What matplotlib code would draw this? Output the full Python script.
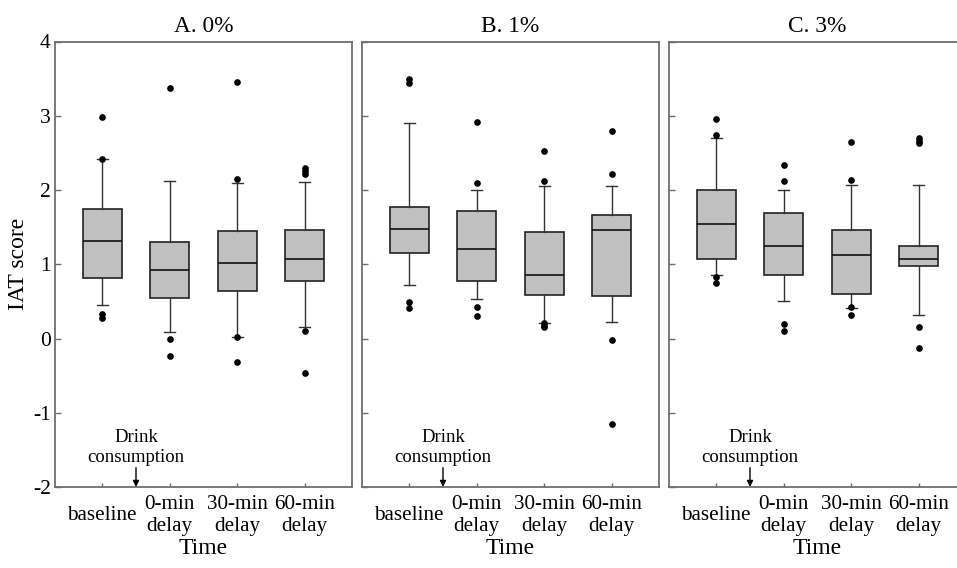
import matplotlib
matplotlib.use("Agg")
import matplotlib.pyplot as plt

# ---- data ----
panels = ["A. 0%", "B. 1%", "C. 3%"]
times = ["baseline", "0-min\ndelay", "30-min\ndelay", "60-min\ndelay"]

q1 = [[0.81, 0.54, 0.634, 0.77],
      [1.145, 0.78, 0.59, 0.566],
      [1.074, 0.858, 0.593, 0.97]]
med = [[1.31, 0.926, 1.02, 1.07],
       [1.47, 1.20, 0.85, 1.46],
       [1.545, 1.24, 1.13, 1.065]]
q3 = [[1.744, 1.294, 1.45, 1.465],
      [1.765, 1.715, 1.43, 1.67],
      [1.996, 1.685, 1.455, 1.24]]
whislo = [[0.445, 0.094, 0.02, 0.16],
          [0.723, 0.53, 0.207, 0.216],
          [0.858, 0.503, 0.413, 0.32]]
whishi = [[2.42, 2.117, 2.10, 2.11],
          [2.90, 2.0, 2.06, 2.06],
          [2.70, 2.0, 2.07, 2.07]]
fliers = [
    [[2.98, 2.42, 0.33, 0.28],
     [3.37, 0.0, -0.24],
     [3.45, 2.15, 0.02, -0.32],
     [2.30, 2.26, 2.22, 0.10, -0.47]],
    [[3.49, 3.44, 0.485, 0.41],
     [2.91, 2.10, 0.43, 0.305],
     [2.53, 2.12, 0.21, 0.175, 0.15],
     [2.79, 2.21, -0.02, -1.155]],
    [[2.955, 2.735, 0.826, 0.75],
     [2.33, 2.12, 0.20, 0.10],
     [2.65, 2.14, 0.42, 0.32],
     [2.70, 2.66, 2.63, 0.157, -0.126]],
]
yticks = [-2, -1, 0, 1, 2, 3, 4]

# ---- figure ----
W, H = 957, 568
plt.rcParams["font.family"] = ["Liberation Serif", "DejaVu Serif"]
plt.rcParams["axes.unicode_minus"] = False
fig = plt.figure(figsize=(W / 100, H / 100), dpi=100)

lefts = [55, 362, 669]
ax_w = 297
top, bottom = 41.5, 487
spine_col = "#6e6e6e"

for p in range(3):
    ax = fig.add_axes([lefts[p] / W, (H - bottom) / H, ax_w / W, (bottom - top) / H])
    stats = []
    for i in range(4):
        stats.append(dict(q1=q1[p][i], med=med[p][i], q3=q3[p][i],
                          whislo=whislo[p][i], whishi=whishi[p][i],
                          fliers=fliers[p][i], label=times[i]))
    ax.bxp(stats, positions=[1, 2, 3, 4], widths=0.58, capwidths=0.17,
           patch_artist=True, showfliers=True,
           boxprops=dict(facecolor="#c0c0c0", edgecolor="#222222", linewidth=1.2),
           medianprops=dict(color="#111111", linewidth=1.2),
           whiskerprops=dict(color="#333333", linewidth=1.0),
           capprops=dict(color="#333333", linewidth=1.0),
           flierprops=dict(marker="o", markerfacecolor="black", markeredgecolor="black",
                           markersize=3.8, linestyle="none"))
    ax.set_xlim(0.3, 4.7)
    ax.set_ylim(-2, 4)
    ax.set_yticks(yticks)
    ax.set_xticks([1, 2, 3, 4])
    ax.set_xticklabels(times, fontsize=15.2, linespacing=1.25)
    for lab in ax.get_xticklabels():
        lab.set_verticalalignment("center")
    ax.tick_params(axis="x", direction="in", length=3, width=1, color=spine_col, pad=20.5)
    ax.tick_params(axis="y", direction="in", length=4, width=1, color=spine_col, pad=3,
                   labelsize=15.5)
    if p > 0:
        ax.tick_params(axis="y", labelleft=False)
    for s in ax.spines.values():
        s.set_color(spine_col)
        s.set_linewidth(1.3)
    ax.set_title(panels[p], fontsize=16.8, pad=7)
    ax.set_xlabel("Time", fontsize=17, labelpad=1)
    if p == 0:
        ax.set_ylabel("IAT score", fontsize=17, labelpad=3)
    ax.annotate("", xy=(1.5, -2), xytext=(1.5, -1.74),
                arrowprops=dict(arrowstyle="-|>", color="black", lw=1.0,
                                mutation_scale=9, shrinkA=0, shrinkB=0))
    ax.text(1.5, -1.47, "Drink\nconsumption", ha="center", va="center",
            fontsize=13.5, linespacing=1.2)

fig.savefig("out.png", dpi=100)
